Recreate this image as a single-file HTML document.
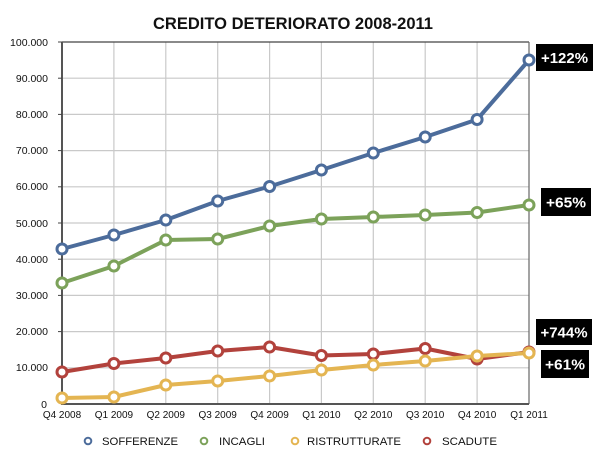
<!DOCTYPE html>
<html><head><meta charset="utf-8"><style>
html,body{margin:0;padding:0;background:#fff;}
svg{display:block;font-family:"Liberation Sans",Arial,sans-serif;}
</style></head><body>
<svg width="600" height="456" viewBox="0 0 600 456" xmlns="http://www.w3.org/2000/svg">
<rect width="600" height="456" fill="#fff"/>
<text x="293" y="29" text-anchor="middle" font-size="17" font-weight="bold" fill="#111" textLength="280" lengthAdjust="spacingAndGlyphs">CREDITO DETERIORATO 2008-2011</text>
<g stroke="#c9c9c9" stroke-width="1.2">
<line x1="62" y1="78.2" x2="529" y2="78.2"/>
<line x1="62" y1="114.4" x2="529" y2="114.4"/>
<line x1="62" y1="150.6" x2="529" y2="150.6"/>
<line x1="62" y1="186.8" x2="529" y2="186.8"/>
<line x1="62" y1="223" x2="529" y2="223"/>
<line x1="62" y1="259.2" x2="529" y2="259.2"/>
<line x1="62" y1="295.4" x2="529" y2="295.4"/>
<line x1="62" y1="331.6" x2="529" y2="331.6"/>
<line x1="62" y1="367.8" x2="529" y2="367.8"/>
<line x1="113.9" y1="42" x2="113.9" y2="404"/>
<line x1="165.8" y1="42" x2="165.8" y2="404"/>
<line x1="217.7" y1="42" x2="217.7" y2="404"/>
<line x1="269.6" y1="42" x2="269.6" y2="404"/>
<line x1="321.4" y1="42" x2="321.4" y2="404"/>
<line x1="373.3" y1="42" x2="373.3" y2="404"/>
<line x1="425.2" y1="42" x2="425.2" y2="404"/>
<line x1="477.1" y1="42" x2="477.1" y2="404"/>
</g>
<line x1="62" y1="42" x2="529" y2="42" stroke="#444" stroke-width="1.2"/>
<line x1="529" y1="42" x2="529" y2="404" stroke="#666" stroke-width="1.2"/>
<line x1="62" y1="404" x2="529" y2="404" stroke="#555" stroke-width="2"/>
<line x1="62" y1="42" x2="62" y2="405" stroke="#555" stroke-width="2"/>
<g stroke="#444" stroke-width="1">
<line x1="58" y1="42" x2="62" y2="42"/><line x1="58" y1="78.2" x2="62" y2="78.2"/><line x1="58" y1="114.4" x2="62" y2="114.4"/><line x1="58" y1="150.6" x2="62" y2="150.6"/><line x1="58" y1="186.8" x2="62" y2="186.8"/><line x1="58" y1="223" x2="62" y2="223"/><line x1="58" y1="259.2" x2="62" y2="259.2"/><line x1="58" y1="295.4" x2="62" y2="295.4"/><line x1="58" y1="331.6" x2="62" y2="331.6"/><line x1="58" y1="367.8" x2="62" y2="367.8"/>
</g>
<g font-size="10.5" fill="#111" text-anchor="end">
<text x="48" y="46">100.000</text>
<text x="48" y="82">90.000</text>
<text x="48" y="118">80.000</text>
<text x="48" y="154">70.000</text>
<text x="48" y="190">60.000</text>
<text x="48" y="227">50.000</text>
<text x="48" y="263">40.000</text>
<text x="48" y="299">30.000</text>
<text x="48" y="335">20.000</text>
<text x="48" y="371">10.000</text>
<text x="47" y="408">0</text>
</g>
<g font-size="10" fill="#111" text-anchor="middle">
<text x="62" y="418">Q4 2008</text>
<text x="113.9" y="418">Q1 2009</text>
<text x="165.8" y="418">Q2 2009</text>
<text x="217.7" y="418">Q3 2009</text>
<text x="269.6" y="418">Q4 2009</text>
<text x="321.4" y="418">Q1 2010</text>
<text x="373.3" y="418">Q2 2010</text>
<text x="425.2" y="418">Q3 2010</text>
<text x="477.1" y="418">Q4 2010</text>
<text x="529" y="418">Q1 2011</text>
</g>
<g fill="none" stroke-width="4" stroke-linejoin="round">
<polyline stroke="#4c6c9b" points="62,249 113.9,235 165.8,220 217.7,201 269.6,186.5 321.4,170 373.3,153 425.2,137 477.1,119.5 529,60"/>
<polyline stroke="#7ca25a" points="62,283 113.9,266 165.8,240 217.7,239 269.6,226 321.4,219 373.3,217 425.2,215 477.1,212.5 529,205"/>
<polyline stroke="#b2423c" points="62,372 113.9,363.5 165.8,358 217.7,351 269.6,347 321.4,355.5 373.3,354 425.2,348.5 477.1,359 529,352"/>
<polyline stroke="#e4b552" points="62,398 113.9,397 165.8,385 217.7,381 269.6,376 321.4,370 373.3,365 425.2,361 477.1,356 529,353"/>
</g>
<g fill="#fff" stroke-width="3">
<g stroke="#4c6c9b">
<circle cx="62" cy="249" r="5"/><circle cx="113.9" cy="235" r="5"/><circle cx="165.8" cy="220" r="5"/><circle cx="217.7" cy="201" r="5"/><circle cx="269.6" cy="186.5" r="5"/><circle cx="321.4" cy="170" r="5"/><circle cx="373.3" cy="153" r="5"/><circle cx="425.2" cy="137" r="5"/><circle cx="477.1" cy="119.5" r="5"/><circle cx="529" cy="60" r="5"/>
</g>
<g stroke="#7ca25a">
<circle cx="62" cy="283" r="5"/><circle cx="113.9" cy="266" r="5"/><circle cx="165.8" cy="240" r="5"/><circle cx="217.7" cy="239" r="5"/><circle cx="269.6" cy="226" r="5"/><circle cx="321.4" cy="219" r="5"/><circle cx="373.3" cy="217" r="5"/><circle cx="425.2" cy="215" r="5"/><circle cx="477.1" cy="212.5" r="5"/><circle cx="529" cy="205" r="5"/>
</g>
<g stroke="#b2423c">
<circle cx="62" cy="372" r="5"/><circle cx="113.9" cy="363.5" r="5"/><circle cx="165.8" cy="358" r="5"/><circle cx="217.7" cy="351" r="5"/><circle cx="269.6" cy="347" r="5"/><circle cx="321.4" cy="355.5" r="5"/><circle cx="373.3" cy="354" r="5"/><circle cx="425.2" cy="348.5" r="5"/><circle cx="477.1" cy="359" r="5"/><circle cx="529" cy="352" r="5"/>
</g>
<g stroke="#e4b552">
<circle cx="62" cy="398" r="5"/><circle cx="113.9" cy="397" r="5"/><circle cx="165.8" cy="385" r="5"/><circle cx="217.7" cy="381" r="5"/><circle cx="269.6" cy="376" r="5"/><circle cx="321.4" cy="370" r="5"/><circle cx="373.3" cy="365" r="5"/><circle cx="425.2" cy="361" r="5"/><circle cx="477.1" cy="356" r="5"/><circle cx="529" cy="353" r="5"/>
</g>
</g>
<g>
<rect x="536" y="44" width="57" height="27" fill="#000"/>
<rect x="541" y="188" width="50" height="28" fill="#000"/>
<rect x="536" y="319" width="56" height="26" fill="#000"/>
<rect x="541" y="350" width="48" height="28" fill="#000"/>
</g>
<g font-size="15" font-weight="bold" fill="#fff" text-anchor="middle">
<text x="564.5" y="63" textLength="47" lengthAdjust="spacingAndGlyphs">+122%</text>
<text x="566" y="207.5" textLength="40" lengthAdjust="spacingAndGlyphs">+65%</text>
<text x="564" y="337.5" textLength="47" lengthAdjust="spacingAndGlyphs">+744%</text>
<text x="565" y="369.5" textLength="40" lengthAdjust="spacingAndGlyphs">+61%</text>
</g>
<g fill="#fff" stroke-width="2">
<circle cx="88" cy="441" r="3.3" stroke="#4c6c9b"/>
<circle cx="204" cy="441" r="3.3" stroke="#7ca25a"/>
<circle cx="295" cy="441" r="3.3" stroke="#e4b552"/>
<circle cx="427" cy="441" r="3.3" stroke="#b2423c"/>
</g>
<g font-size="11" fill="#111">
<text x="102" y="445" textLength="76" lengthAdjust="spacingAndGlyphs">SOFFERENZE</text>
<text x="219" y="445" textLength="46" lengthAdjust="spacingAndGlyphs">INCAGLI</text>
<text x="307" y="445" textLength="94" lengthAdjust="spacingAndGlyphs">RISTRUTTURATE</text>
<text x="442" y="445" textLength="55" lengthAdjust="spacingAndGlyphs">SCADUTE</text>
</g>
</svg>
</body></html>
